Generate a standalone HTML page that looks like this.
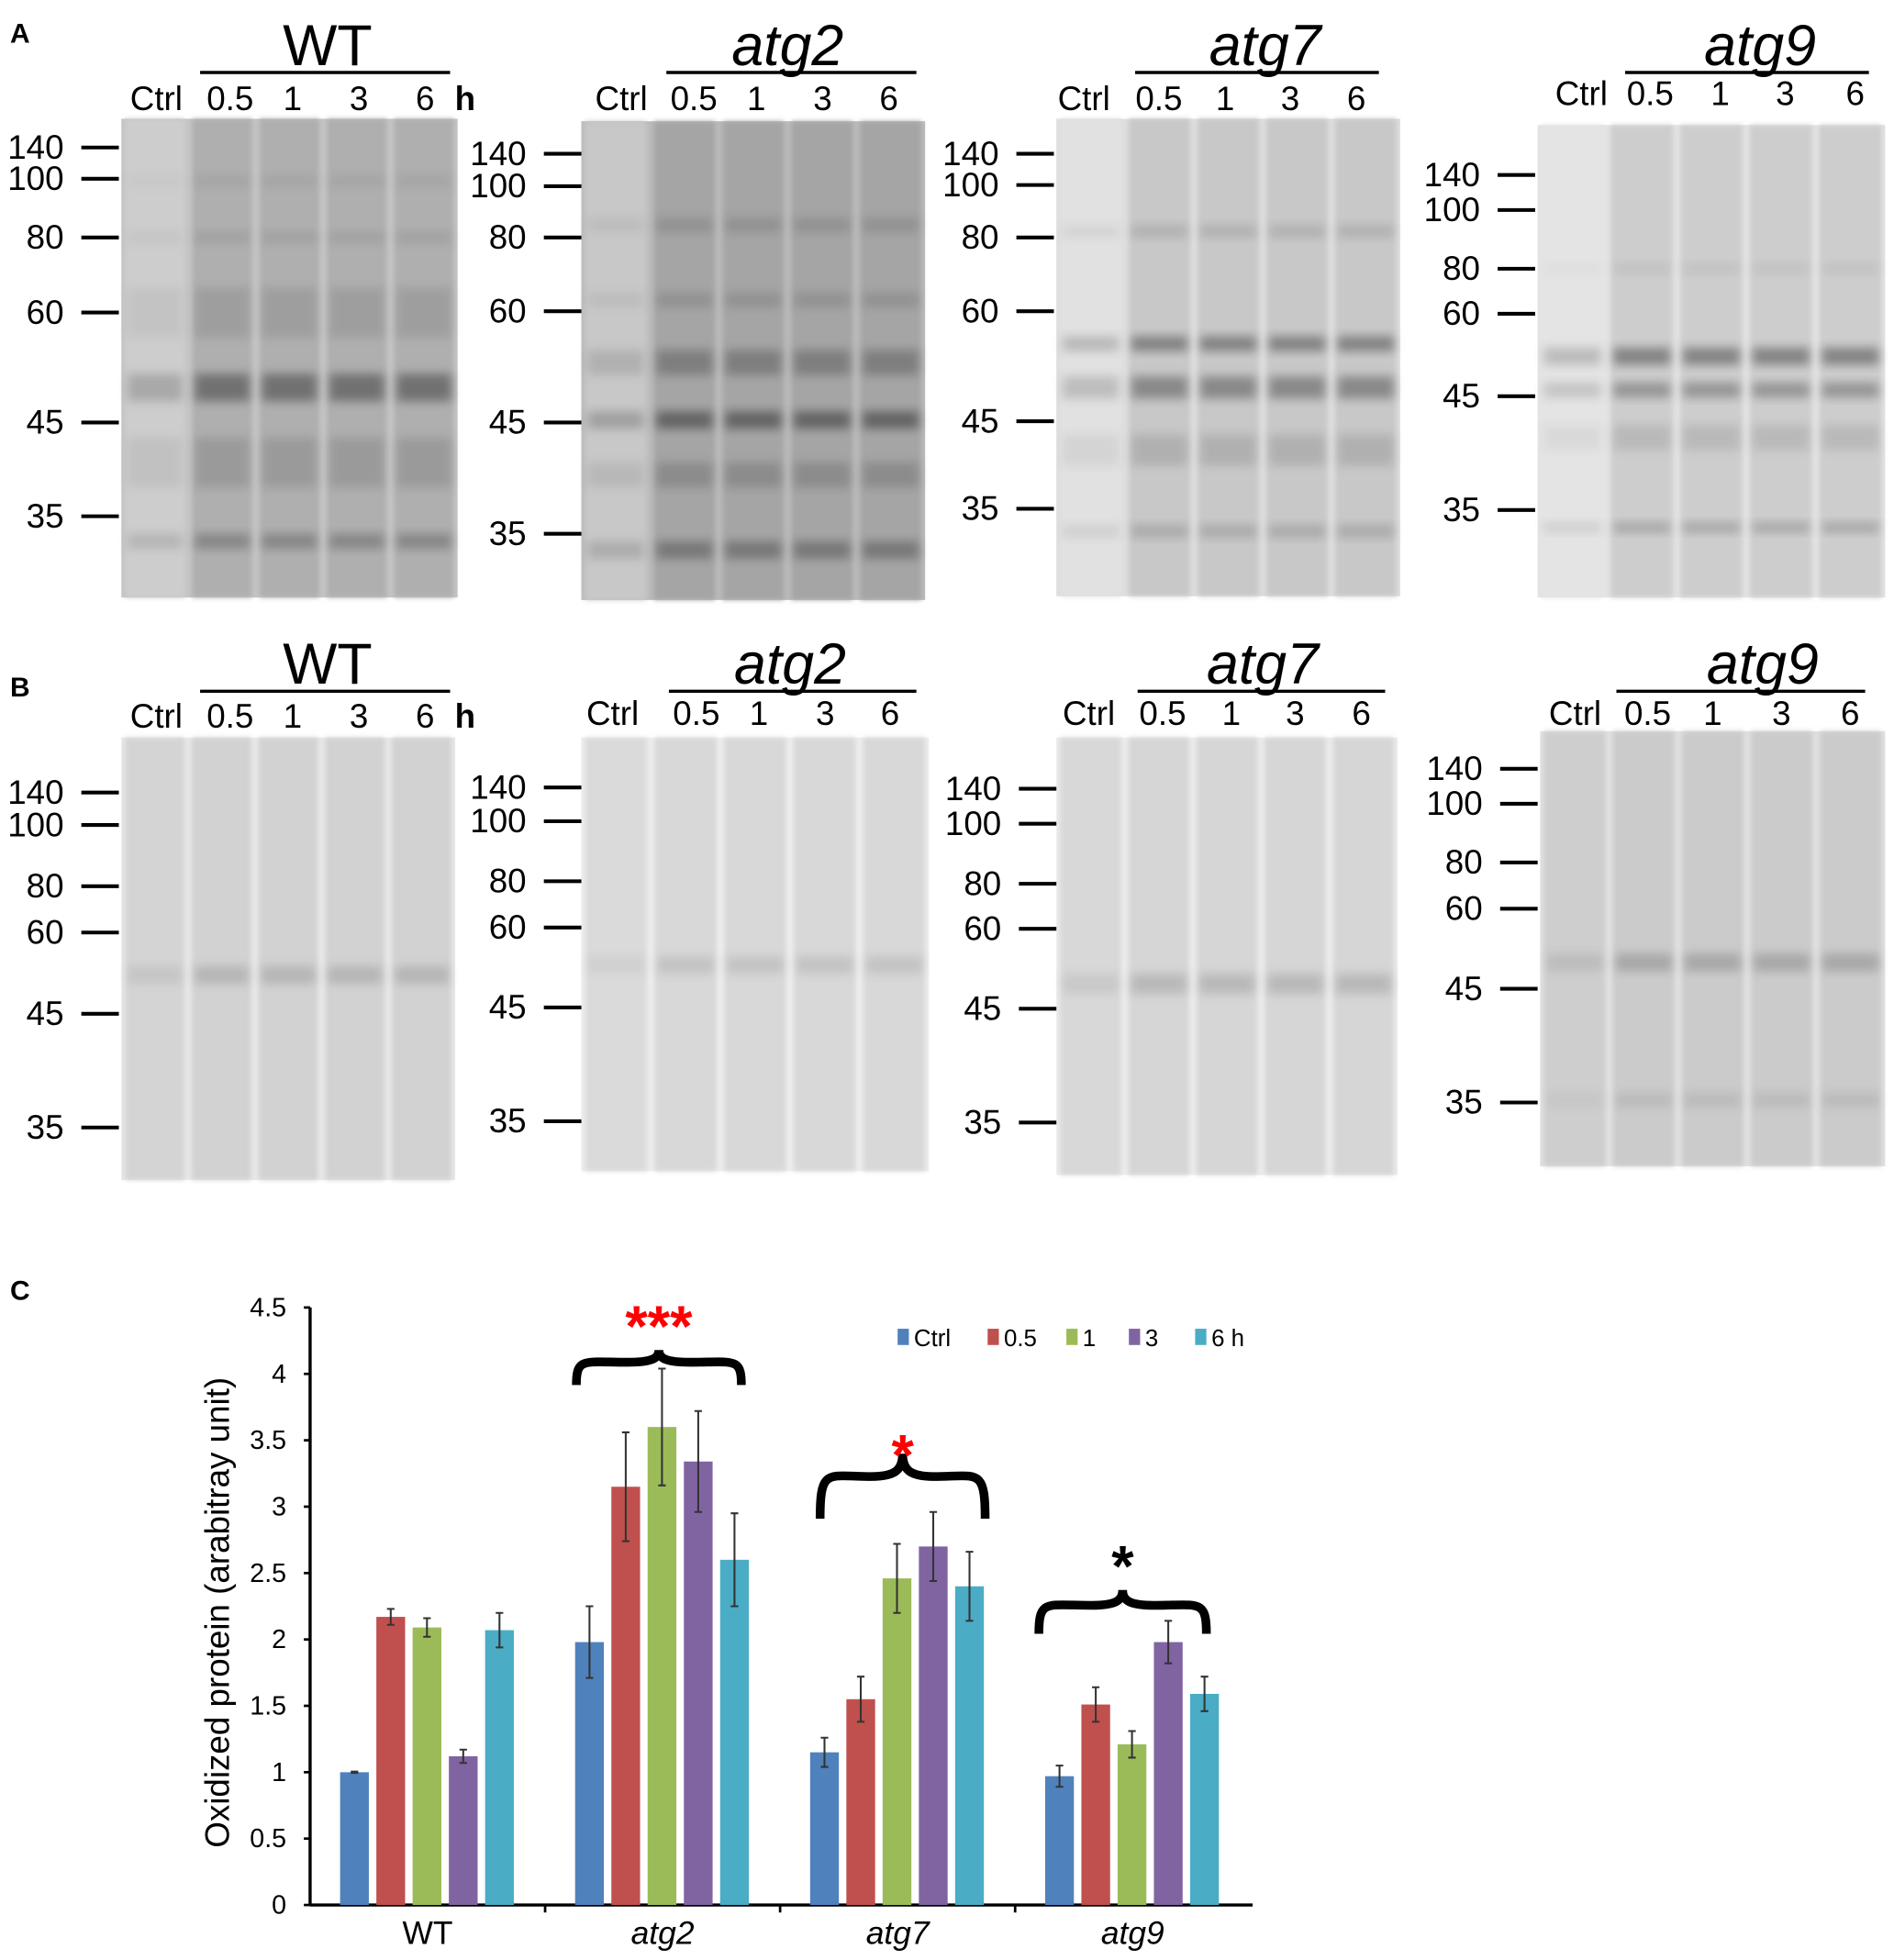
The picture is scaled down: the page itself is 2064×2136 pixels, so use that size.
<!DOCTYPE html>
<html><head><meta charset="utf-8"><style>
html,body{margin:0;padding:0;background:#fff;}
svg{display:block;font-family:"Liberation Sans Narrow","Liberation Sans",sans-serif;}
</style></head><body>
<svg id="fig" width="2064" height="2136" viewBox="0 0 1515 1568" xmlns="http://www.w3.org/2000/svg">
<defs>
<filter id="blur" x="-20%" y="-50%" width="140%" height="200%"><feGaussianBlur stdDeviation="4"/></filter>
<filter id="blur2" x="-20%" y="-20%" width="140%" height="140%"><feGaussianBlur stdDeviation="2"/></filter>
</defs>
<g id="blots"></g>
<g id="chart"></g>
</svg>
<script>
// ---------- Chart data ----------
const groups = ["WT","atg2","atg7","atg9"];
const series = ["Ctrl","0.5","1","3","6h"];
const colors = ["#4f81bd","#c0504d","#9bbb59","#8064a2","#4bacc6"];
const valCtrl = [1.0, 1.98, 1.15, 0.97];
const val05   = [2.17, 3.15, 1.55, 1.51];
const val1    = [2.09, 3.60, 2.46, 1.21];
const val3    = [1.12, 3.34, 2.70, 1.98];
const val6    = [2.07, 2.60, 2.40, 1.59];
const errCtrl = [0.005, 0.27, 0.11, 0.08];
const err05   = [0.06, 0.41, 0.17, 0.13];
const err1    = [0.07, 0.44, 0.26, 0.10];
const err3    = [0.05, 0.38, 0.26, 0.16];
const err6    = [0.13, 0.35, 0.26, 0.13];
const yTicks = [0,0.5,1,1.5,2,2.5,3,3.5,4,4.5];
const yTickLabels = ["0","0.5","1","1.5","2","2.5","3","3.5","4","4.5"];

const NS="http://www.w3.org/2000/svg";
function mk(tag, attrs, parent, text){
  const e=document.createElementNS(NS,tag);
  for(const k in attrs) e.setAttribute(k,attrs[k]);
  if(text!==undefined) e.textContent=text;
  parent.appendChild(e); return e;
}
const chart=document.getElementById('chart');
const X0=248, X1=1000, Y0=1524, Ymax=1046;
const yScale=v=>Y0-(v/4.5)*(Y0-Ymax);
const gw=(X1-X0)/groups.length;
const xBar=(g,s)=>X0+g*gw+24+s*29;
const BW=23;

let e;
e=mk('line',{x1:X0,y1:Ymax,x2:X0,y2:Y0,stroke:'#000','stroke-width':2.5},chart);


e=mk('line',{x1:X0,y1:Y0,x2:X1+2,y2:Y0,stroke:'#000','stroke-width':2.5},chart);


yTicks.forEach((t,i)=>{
  const y=yScale(t);
  mk('line',{x1:X0-5,y1:y,x2:X0,y2:y,stroke:'#000','stroke-width':2},chart);
  const tl=mk('text',{x:X0-19,y:y+7,'text-anchor':'end','font-size':21},chart,yTickLabels[i]);
  
  
});
for(let g=1;g<groups.length;g++){
  const x=X0+g*gw;
  mk('line',{x1:x,y1:Y0,x2:x,y2:Y0+6,stroke:'#000','stroke-width':2},chart);
}
groups.forEach((gname,g)=>{
  const t=mk('text',{x:X0+g*gw+gw/2,y:1555,'text-anchor':'middle','font-size':26,'font-style':g?'italic':'normal'},chart,gname);
  
  
});
const vals=[valCtrl,val05,val1,val3,val6];
const errs=[errCtrl,err05,err1,err3,err6];
groups.forEach((gname,g)=>{
  series.forEach((sname,s)=>{
    const v=vals[s][g], er=errs[s][g];
    const x=xBar(g,s), y=yScale(v);
    const r=mk('rect',{x:x,y:y,width:BW,height:Y0-y,fill:colors[s]},chart);
    
    
    const cx=x+BW/2, yt=yScale(v+er), yb=yScale(v-er);
    const eb=mk('path',{d:`M${cx},${yt}V${yb}M${cx-3},${yt}H${cx+3}M${cx-3},${yb}H${cx+3}`,stroke:'#333','stroke-width':1.5,fill:'none'},chart);
    
    
  });
});
const legX=[718,790,853,903,956];
series.forEach((s,i)=>{
  const r=mk('rect',{x:legX[i],y:1063,width:9,height:13,fill:colors[i]},chart);
  
  
  const t=mk('text',{x:legX[i]+13,y:1077,'font-size':19},chart,s==='6h'?'6 h':s);
  
  
});
e=mk('text',{x:0,y:0,transform:'translate(183,1290) rotate(-90)','text-anchor':'middle','font-size':27,'font-family':'Liberation Sans, sans-serif'},chart,'Oxidized protein (arabitray unit)');


e=mk('text',{x:8,y:1040,'font-size':22,'font-weight':'bold','font-family':'Liberation Sans, sans-serif'},chart,'C');


function brace(x1,x2,yTop,h,name){
  const m=(x1+x2)/2;
  const d=`M${x1},${yTop+h} C${x1},${yTop+h*0.2} ${x1+6},${yTop+h*0.35} ${m-25},${yTop+h*0.35} C${m-6},${yTop+h*0.35} ${m},${yTop+h*0.25} ${m},${yTop} C${m},${yTop+h*0.25} ${m+6},${yTop+h*0.35} ${m+25},${yTop+h*0.35} C${x2-6},${yTop+h*0.35} ${x2},${yTop+h*0.2} ${x2},${yTop+h}`;
  const p=mk('path',{d:d,fill:'none',stroke:'#000','stroke-width':7},chart);
  
  
}
brace(461,593,1080,28,'brace-atg2');
brace(656,788,1163,52,'brace-atg7');
brace(831,965,1272,35,'brace-atg9');
e=mk('text',{x:527,y:1077,'text-anchor':'middle','font-size':46,'font-weight':'bold',fill:'#f00','font-family':'Liberation Sans, sans-serif'},chart,'***');


e=mk('text',{x:722,y:1180,'text-anchor':'middle','font-size':46,'font-weight':'bold',fill:'#f00','font-family':'Liberation Sans, sans-serif'},chart,'*');


e=mk('text',{x:898,y:1269,'text-anchor':'middle','font-size':46,'font-weight':'bold',fill:'#000','font-family':'Liberation Sans, sans-serif'},chart,'*');



// ---------- Blots ----------
const blots=document.getElementById('blots');
const markerNames=["140","100","80","60","45","35"];
const panels=[
 {name:'a-wt',title:'WT',it:false,x:97,y:95,w:269,h:383,base:175,ctrl:205,lx:[125,184,234,287,340],tx:262,ty:52,line:[160,360,58],ly:88,h_:true,
  mk:[118,143,190,250,338,413],tk:[65,95],bands:[[310,90,22],[433,60,12],[250,25,40],[190,20,10],[145,15,10],[370,30,40]]},
 {name:'a-atg2',title:'atg2',it:true,x:465,y:97,w:275,h:383,base:165,ctrl:200,lx:[497,555,605,658,711],tx:630,ty:52,line:[533,733,58],ly:88,
  mk:[123,149,190,249,338,427],tk:[435,465],bands:[[336,100,14],[290,60,20],[440,70,14],[380,40,20],[180,30,12],[240,30,12]]},
 {name:'a-atg7',title:'atg7',it:true,x:845,y:95,w:275,h:382,base:200,ctrl:225,lx:[867,927,980,1032,1085],tx:1012,ty:52,line:[908,1103,58],ly:88,
  mk:[123,148,190,249,337,407],tk:[813,843],bands:[[310,80,18],[275,90,12],[425,40,10],[185,30,10],[360,30,25]]},
 {name:'a-atg9',title:'atg9',it:true,x:1230,y:100,w:278,h:378,base:205,ctrl:228,lx:[1265,1320,1376,1428,1484],tx:1408,ty:52,line:[1300,1495,58],ly:84,
  mk:[140,168,215,251,317,408],tk:[1198,1228],bands:[[285,90,14],[312,70,12],[422,50,8],[350,25,20],[215,15,8]]},
 {name:'b-wt',title:'WT',it:false,x:97,y:590,w:267,h:354,base:210,ctrl:212,lx:[125,184,234,287,340],tx:262,ty:547,line:[160,360,553],ly:582,h_:true,
  mk:[634,660,709,746,811,902],tk:[65,95],bands:[[780,35,14]]},
 {name:'b-atg2',title:'atg2',it:true,x:465,y:590,w:278,h:347,base:216,ctrl:218,lx:[490,557,607,660,712],tx:632,ty:547,line:[535,733,553],ly:580,
  mk:[630,657,705,742,806,897],tk:[435,465],bands:[[772,25,14]]},
 {name:'b-atg7',title:'atg7',it:true,x:845,y:590,w:273,h:350,base:214,ctrl:216,lx:[871,930,985,1036,1089],tx:1010,ty:547,line:[910,1108,553],ly:580,
  mk:[631,659,707,743,807,898],tk:[815,845],bands:[[787,35,16]]},
 {name:'b-atg9',title:'atg9',it:true,x:1232,y:585,w:276,h:348,base:203,ctrl:206,lx:[1260,1318,1370,1425,1480],tx:1410,ty:547,line:[1293,1492,553],ly:580,
  mk:[615,643,690,727,791,882],tk:[1200,1230],bands:[[770,45,14],[880,20,12]]}
];
const laneLabels=["Ctrl","0.5","1","3","6"];
const g=v=>`rgb(${v},${v},${v})`;
panels.forEach(p=>{
  const grp=mk('g',{},blots);
  
  
  mk('rect',{x:p.x,y:p.y,width:p.w,height:p.h,fill:g(Math.min(240,p.base+22))},grp);
  const lw=p.w/5;
  for(let i=0;i<5;i++){
    const lx=p.x+i*lw+3;
    const base=i===0?p.ctrl:p.base;
    mk('rect',{x:lx,y:p.y,width:lw-6,height:p.h,fill:g(base),filter:'url(#blur2)'},grp);
    p.bands.forEach(b=>{
      const strength=i===0?b[1]*0.5:b[1];
      mk('rect',{x:lx+2,y:b[0]-b[2]/2,width:lw-10,height:b[2],fill:'#000','fill-opacity':(strength/255).toFixed(3),filter:'url(#blur)'},grp);
    });
  }
  const t=mk('text',{x:p.tx,y:p.ty,'text-anchor':'middle','font-size':46,'font-style':p.it?'italic':'normal','font-family':'Liberation Sans, sans-serif'},grp,p.title);
  
  
  mk('line',{x1:p.line[0],y1:p.line[2],x2:p.line[1],y2:p.line[2],stroke:'#000','stroke-width':2.5},grp);
  p.lx.forEach((x,i)=>{
    const l=mk('text',{x:x,y:p.ly,'text-anchor':'middle','font-size':27},grp,laneLabels[i]);
    
    
  });
  if(p.h_){
    const hh=mk('text',{x:372,y:p.ly,'text-anchor':'middle','font-size':27,'font-weight':'bold'},grp,'h');
    
    
  }
  p.mk.forEach((y,i)=>{
    mk('line',{x1:p.tk[0],y1:y,x2:p.tk[1],y2:y,stroke:'#000','stroke-width':3},grp);
    const m=mk('text',{x:p.tk[0]-14,y:y+9,'text-anchor':'end','font-size':27},grp,markerNames[i]);
    
    
  });
});
e=mk('text',{x:8,y:34,'font-size':22,'font-weight':'bold','font-family':'Liberation Sans, sans-serif'},blots,'A');


e=mk('text',{x:8,y:557,'font-size':22,'font-weight':'bold','font-family':'Liberation Sans, sans-serif'},blots,'B');


</script>
</body></html>
